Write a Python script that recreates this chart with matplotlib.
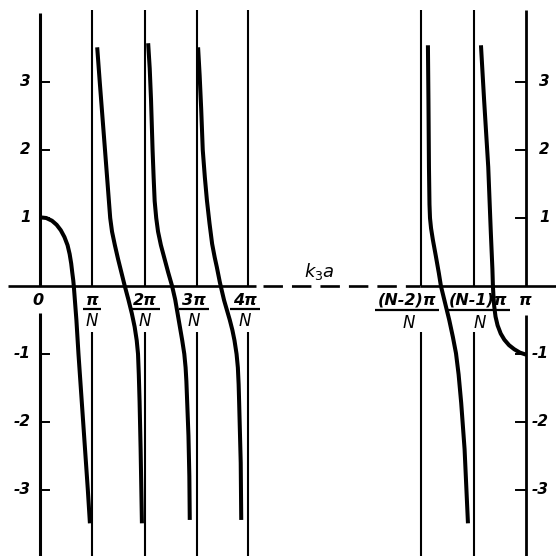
import matplotlib
matplotlib.use('Agg')
import matplotlib.pyplot as plt

plt.rcParams['lines.scale_dashes'] = False
plt.rcParams['mathtext.fontset'] = 'dejavusans'
plt.rcParams['font.family'] = ['DejaVu Sans']

# ---------------- data ----------------
# positions of the special k3*a values (0, pi/N, 2pi/N, ..., pi) on the drawn axis
line_pos = [0.0, 1.0, 2.02, 3.02, 4.0, 7.33, 8.35, 9.35]
line_labels = ['0', 'π/N', '2π/N', '3π/N', '4π/N', '(N-2)π/N', '(N-1)π/N', 'π']
y_ticks = [-3, -2, -1, 1, 2, 3]
y_tick_labels = ['-3', '-2', '-1', '1', '2', '3']

branch1_x = [0.00, 0.12, 0.23, 0.32, 0.40, 0.47, 0.53, 0.57, 0.60, 0.62, 0.64, 0.65,
             0.70, 0.74, 0.83, 0.92, 0.96]
branch1_y = [1.01, 1.00, 0.96, 0.90, 0.82, 0.72, 0.60, 0.47, 0.33, 0.20, 0.08, 0.00,
             -0.50, -1.00, -2.00, -3.00, -3.49]

branch2_x = [1.10, 1.15, 1.25, 1.31, 1.35, 1.385, 1.44, 1.50, 1.565, 1.63, 1.70, 1.765,
             1.82, 1.86, 1.885, 1.90, 1.915, 1.935, 1.96]
branch2_y = [3.51, 2.99, 2.00, 1.40, 1.00, 0.80, 0.60, 0.40, 0.20, 0.00, -0.20, -0.40,
             -0.60, -0.80, -1.00, -1.30, -1.70, -2.40, -3.49]

branch3_x = [2.08, 2.11, 2.135, 2.165, 2.185, 2.205, 2.235, 2.27, 2.325, 2.395, 2.465,
             2.54, 2.60, 2.645, 2.69, 2.735, 2.775, 2.80, 2.815, 2.83, 2.855, 2.872, 2.88]
branch3_y = [3.57, 3.20, 2.74, 2.00, 1.60, 1.25, 1.00, 0.80, 0.60, 0.40, 0.20,
             0.00, -0.20, -0.40, -0.60, -0.80, -1.00, -1.20, -1.40, -1.70, -2.20, -2.80, -3.44]

branch4_x = [3.04, 3.07, 3.10, 3.13, 3.17, 3.21, 3.26, 3.31, 3.36, 3.40, 3.46, 3.54,
             3.65, 3.70, 3.74, 3.78, 3.805, 3.82, 3.83, 3.86, 3.87]
branch4_y = [3.51, 3.10, 2.60, 2.00, 1.60, 1.26, 0.92, 0.62, 0.42, 0.28, 0.05, -0.21,
             -0.50, -0.65, -0.80, -1.00, -1.20, -1.45, -1.72, -2.60, -3.44]

branch5_x = [7.46, 7.47, 7.48, 7.49, 7.50, 7.52, 7.555, 7.61, 7.67, 7.71, 7.79, 7.87,
             7.94, 8.00, 8.05, 8.10, 8.165, 8.23]
branch5_y = [3.54, 2.74, 1.75, 1.20, 1.00, 0.85, 0.68, 0.45, 0.19, 0.00, -0.25, -0.50,
             -0.75, -0.99, -1.30, -1.72, -2.40, -3.49]

branch6_x = [8.48, 8.54, 8.62, 8.67, 8.70, 8.71, 8.72, 8.735, 8.76, 8.80, 8.86, 8.93,
             9.02, 9.12, 9.23, 9.35]
branch6_y = [3.54, 2.74, 1.75, 0.78, 0.25, 0.00, -0.15, -0.30, -0.45, -0.58, -0.70, -0.79,
             -0.87, -0.93, -0.98, -1.01]

axis_label = r'$k_3a$'

branches = [(branch1_x, branch1_y), (branch2_x, branch2_y), (branch3_x, branch3_y),
            (branch4_x, branch4_y), (branch5_x, branch5_y), (branch6_x, branch6_y)]

# ---------------- figure ----------------
PX_X = 52.0   # pixels per x unit
PX_Y = 68.0   # pixels per y unit
fig = plt.figure(figsize=(5.56, 5.56), dpi=100)
ax = fig.add_axes([0, 0, 1, 1])
ax.set_xlim(-40 / PX_X, 516 / PX_X)
ax.set_ylim(-270 / PX_Y, 286 / PX_Y)
ax.axis('off')

y_bot = ax.get_ylim()[0]

# vertical lines
for i, xp in enumerate(line_pos):
    if i == 0:
        top, gap_end, lw = 4.01, -0.40, 2.2
    elif i == len(line_pos) - 1:
        top, gap_end, lw = 4.06, -0.43, 2.0
    else:
        top, gap_end, lw = 4.06, -0.67, 1.5
    ax.plot([xp, xp], [0, top], color='black', lw=lw, solid_capstyle='butt')
    ax.plot([xp, xp], [gap_end, y_bot], color='black', lw=lw, solid_capstyle='butt')

# horizontal axis: solid, dashed break, solid
ax.plot([-0.615, 4.15], [0, 0], color='black', lw=1.9, solid_capstyle='butt')
ax.plot([4.29, 7.31], [0, 0], color='black', lw=1.9, dashes=(14, 6.5),
        dash_capstyle='butt')
ax.plot([7.31, 516 / PX_X], [0, 0], color='black', lw=1.9, solid_capstyle='butt')

# y ticks, left and right
x_left = line_pos[0]
x_right = line_pos[-1]
for yv, lab in zip(y_ticks, y_tick_labels):
    ax.plot([x_left, x_left + 9 / PX_X], [yv, yv], color='black', lw=1.4)
    ax.plot([x_right - 10 / PX_X, x_right], [yv, yv], color='black', lw=1.4)
    ax.text(x_left - 9 / PX_X, yv, lab, ha='right', va='center', fontsize=11,
            style='italic', weight='bold')
    xr = x_right + (5 if yv < 0 else 13) / PX_X
    ax.text(xr, yv, lab, ha='left', va='center', fontsize=11,
            style='italic', weight='bold')

# curves
for bx, by in branches:
    ax.plot(bx, by, color='black', lw=2.9, solid_joinstyle='round',
            solid_capstyle='butt')

# x labels (fractions)
fig.canvas.draw()
renderer = fig.canvas.get_renderer()
label_dx = [-2, 0, 0, -3, -3, -14, 4, -1]
for xp, lab, dx in zip(line_pos, line_labels, label_dx):
    cx = xp + dx / PX_X
    if '/' in lab:
        num, den = lab.split('/')
        right_side = xp > 5
        y_num = -0.206
        y_bar = -0.36 if right_side else -0.345
        y_den = -0.545 if right_side else -0.515
        t = ax.text(cx, y_num, num, ha='center', va='center', fontsize=11.5,
                    style='italic', weight='bold')
        ax.text(cx + (2 / PX_X if right_side else 0), y_den, den, ha='center',
                va='center', fontsize=12, style='italic')
        bb = t.get_window_extent(renderer)
        inv = ax.transData.inverted()
        (x0, _), (x1, _) = inv.transform([[bb.x0, 0], [bb.x1, 0]])
        pad = 3 / PX_X
        ax.plot([x0 - pad, x1 + pad], [y_bar, y_bar], color='black', lw=1.6,
                solid_capstyle='butt')
    else:
        ax.text(cx, -0.21, lab, ha='center', va='center', fontsize=11.5,
                style='italic', weight='bold')

ax.text(5.38, 0.21, axis_label, ha='center', va='center', fontsize=13)

fig.savefig('out.png', dpi=100)
